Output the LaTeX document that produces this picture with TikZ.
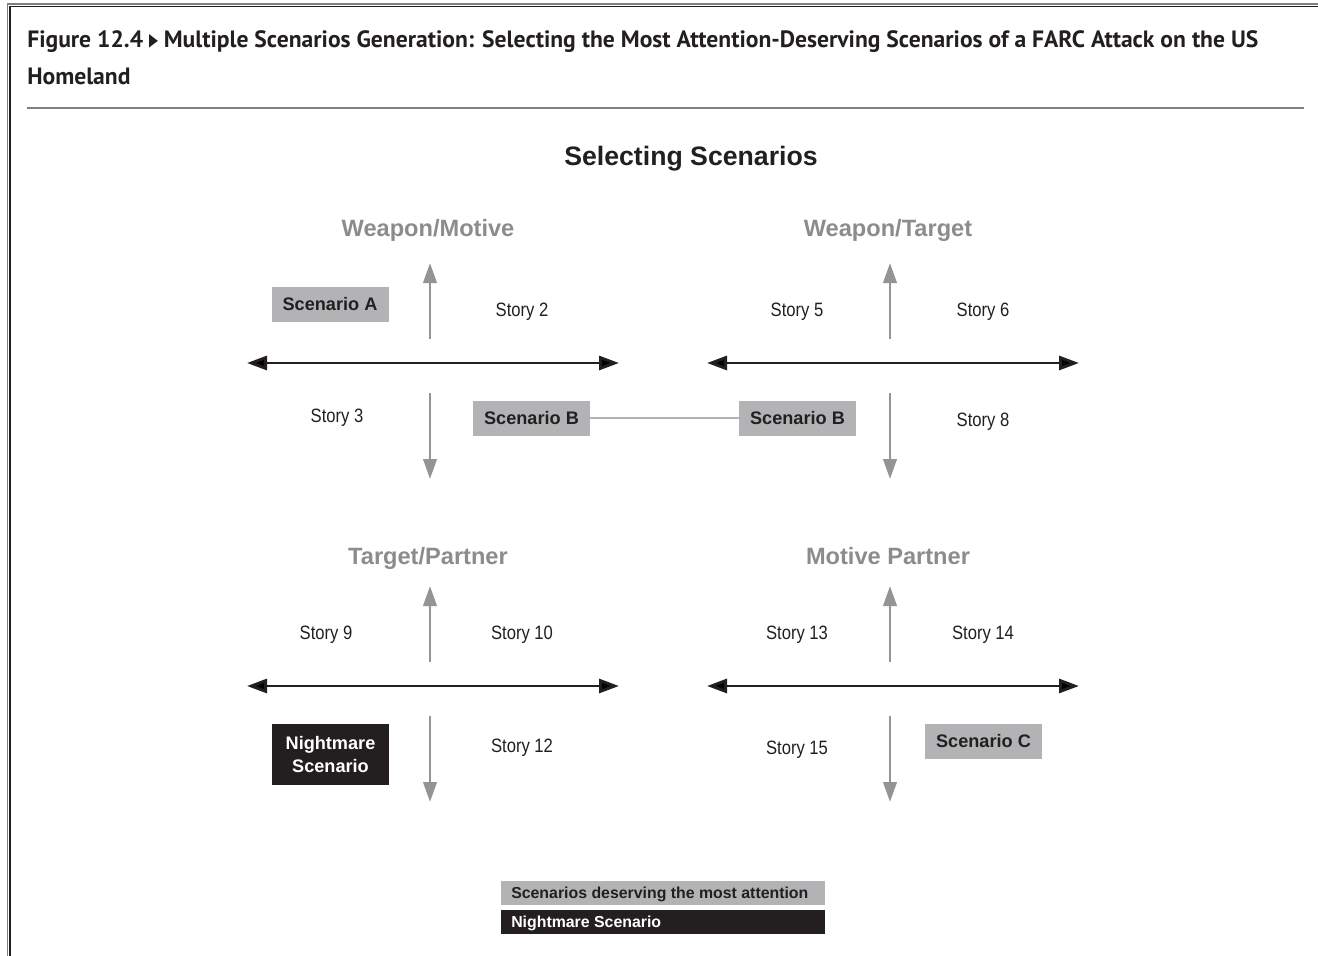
\documentclass[tikz,border=0pt]{standalone}
\usepackage{fontspec}
\setmainfont{Liberation Sans}
\newfontfamily\condfont[FakeStretch=0.86]{Liberation Sans}
\newfontfamily\titlefont[FakeStretch=1.0]{PT Sans}
\usetikzlibrary{arrows.meta}
\definecolor{boxgray}{HTML}{B3B3B5}
\definecolor{headgray}{HTML}{8C8C8E}
\definecolor{arrgray}{HTML}{949496}
\definecolor{ink}{HTML}{231F20}
\definecolor{rulegray}{HTML}{7F7F7F}
\newcommand{\captri}{\tikz[baseline=0pt]\fill[ink] (0,0) -- (0,10pt) -- (6.5pt,5pt) -- cycle;}
\tikzset{
  heading/.style={text=headgray, font=\fontsize{17.7}{20}\selectfont\bfseries, inner sep=0pt, yshift=-1.6pt},
  story/.style={text=ink, font=\condfont\fontsize{14.5}{17}\selectfont, inner sep=0pt, yshift=-2pt},
  scenbox/.style={fill=boxgray, text=ink, font=\fontsize{13.6}{17.25}\selectfont\bfseries,
    minimum width=87.75pt, minimum height=26.25pt, inner sep=0pt},
  nightbox/.style={fill=ink, text=white, font=\fontsize{13.6}{17.25}\selectfont\bfseries,
    minimum width=87.75pt, minimum height=45.75pt, inner sep=0pt, align=center},
  legbar/.style={minimum width=243pt, minimum height=18pt, inner sep=0pt, outer sep=0pt},
  legtext/.style={inner sep=0pt, anchor=base west, font=\fontsize{11.9}{14}\selectfont\bfseries},
  axis/.style={draw=ink, line width=2.2pt, {Triangle[length=15pt,width=10.5pt]}-{Triangle[length=15pt,width=10.5pt]}},
  vaxis/.style={draw=arrgray, line width=2.2pt, -{Triangle[length=15pt,width=10pt]}},
}
\begin{document}
\begin{tikzpicture}[x=0.75pt, y=-0.75pt]
\useasboundingbox (0,0) rectangle (1318,956);
\fill[white] (0,0) rectangle (1318,956);

% frame
\draw[rulegray, line width=1.1pt] (7.5,956) -- (7.5,4) -- (1318,4);
\draw[ink, line width=1.1pt] (10,956) -- (10,6.5) -- (1318,6.5);

% caption
\node[anchor=base west, inner sep=0pt, text=ink, font=\titlefont\fontsize{17.7}{20}\selectfont\bfseries]
  (cap1) at (27,47.5) {Figure 12.4 \captri\ Multiple Scenarios Generation: Selecting the Most Attention-Deserving Scenarios of a FARC Attack on the US};
\node[anchor=base west, inner sep=0pt, text=ink, font=\titlefont\fontsize{17.7}{20}\selectfont\bfseries]
  (cap2) at (27,84.5) {Homeland};
\draw[rulegray, line width=2.2pt] (27,108) -- (1304,108);

\node[text=ink, font=\fontsize{20}{24}\selectfont\bfseries, inner sep=0pt] (title) at (691,158.5) {Selecting Scenarios};

% quadrant headings
\node[heading] (h1) at (428,228) {Weapon/Motive};
\node[heading] (h2) at (888,228) {Weapon/Target};
\node[heading] (h3) at (428,556) {Target/Partner};
\node[heading] (h4) at (888,554) {Motive Partner};

% axes of the four panels
\foreach \n/\cx/\cy in {q1/430/363, q2/890/363, q3/430/686, q4/890/686}{
  \coordinate (\n L) at (\cx-183,\cy);
  \coordinate (\n R) at (\cx+189,\cy);
  \coordinate (\n ub) at (\cx,\cy-24);
  \coordinate (\n ut) at (\cx,\cy-100);
  \coordinate (\n db) at (\cx,\cy+30);
  \coordinate (\n dt) at (\cx,\cy+116);
  \draw[axis] (\n L) -- (\n R);
  \draw[vaxis] (\n ub) -- (\n ut);
  \draw[vaxis] (\n db) -- (\n dt);
}

% panel 1
\node[scenbox] (sA) at (330,304.5) {Scenario A};
\node[story] (s2) at (522,309) {Story 2};
\node[story] (s3) at (337,415) {Story 3};
\node[scenbox] (sB1) at (531.5,418) {Scenario B};

% panel 2
\node[story] (s5) at (797,309) {Story 5};
\node[story] (s6) at (983,309) {Story 6};
\node[scenbox] (sB2) at (797.5,418) {Scenario B};
\node[story] (s8) at (983,419) {Story 8};
\draw[boxgray, line width=1.3pt] (sB1.east) -- (sB2.west);

% panel 3
\node[story] (s9) at (326,632) {Story 9};
\node[story] (s10) at (522,632) {Story 10};
\node[nightbox] (nm) at (330.5,754.5) {Nightmare\\Scenario};
\node[story] (s12) at (522,745) {Story 12};

% panel 4
\node[story] (s13) at (797,632) {Story 13};
\node[story] (s14) at (983,632) {Story 14};
\node[story] (s15) at (797,747) {Story 15};
\node[scenbox] (sC) at (983.5,741.5) {Scenario C};

% key
\node[legbar, fill=boxgray, anchor=north west] (k1) at (501,881) {};
\node[legbar, fill=ink, anchor=north west] (k2) at (501,910) {};
\node[legtext, text=ink] (k1t) at (511,898.5) {Scenarios deserving the most attention};
\node[legtext, text=white] (k2t) at (511,927.5) {Nightmare Scenario};
\end{tikzpicture}
\end{document}
